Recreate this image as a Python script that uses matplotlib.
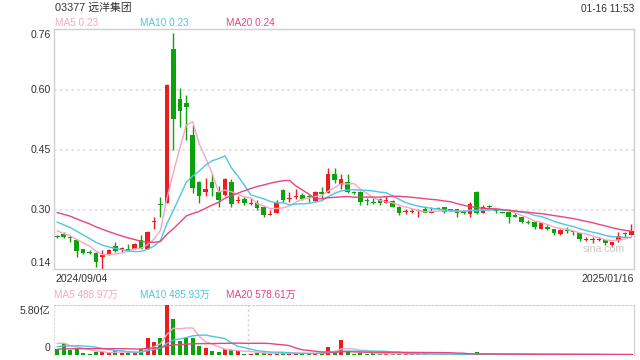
import matplotlib
matplotlib.use("Agg")
import matplotlib.pyplot as plt
import numpy as np

# ---------------- data ----------------
title = "03377 远洋集团"
timestamp = "01-16 11:53"
date_start = "2024/09/04"
date_end = "2025/01/16"

opens = [0.233, 0.239, 0.233, 0.224, 0.202, 0.192, 0.193, 0.181, 0.187, 0.209,
         0.202, 0.203, 0.203, 0.224, 0.203, 0.269, 0.313, 0.316, 0.702, 0.577,
         0.567, 0.487, 0.370, 0.345, 0.370, 0.345, 0.338, 0.370, 0.321, 0.327,
         0.314, 0.318, 0.306, 0.288, 0.293, 0.349, 0.327, 0.331, 0.337, 0.332,
         0.323, 0.345, 0.343, 0.389, 0.362, 0.369, 0.344, 0.345, 0.323, 0.318,
         0.326, 0.318, 0.322, 0.308, 0.294, 0.294, 0.298, 0.301, 0.293, 0.303,
         0.306, 0.300, 0.301, 0.294, 0.289, 0.345, 0.293, 0.307, 0.301, 0.294,
         0.295, 0.287, 0.283, 0.269, 0.270, 0.253, 0.258, 0.252, 0.239, 0.248,
         0.246, 0.241, 0.225, 0.225, 0.225, 0.224, 0.212, 0.224, 0.240, 0.237]
highs = [0.236, 0.245, 0.234, 0.226, 0.203, 0.199, 0.194, 0.199, 0.201, 0.220,
         0.208, 0.214, 0.216, 0.237, 0.247, 0.283, 0.331, 0.615, 0.743, 0.605,
         0.587, 0.512, 0.372, 0.380, 0.388, 0.360, 0.380, 0.378, 0.335, 0.333,
         0.328, 0.324, 0.307, 0.299, 0.324, 0.351, 0.345, 0.353, 0.341, 0.337,
         0.347, 0.356, 0.403, 0.403, 0.389, 0.389, 0.347, 0.346, 0.328, 0.328,
         0.328, 0.334, 0.324, 0.310, 0.303, 0.303, 0.301, 0.309, 0.308, 0.306,
         0.307, 0.303, 0.301, 0.297, 0.320, 0.348, 0.312, 0.312, 0.301, 0.295,
         0.295, 0.291, 0.283, 0.274, 0.270, 0.268, 0.264, 0.252, 0.253, 0.256,
         0.246, 0.241, 0.231, 0.231, 0.231, 0.224, 0.220, 0.245, 0.245, 0.264]
lows = [0.230, 0.229, 0.220, 0.181, 0.190, 0.190, 0.158, 0.151, 0.186, 0.195,
        0.195, 0.199, 0.202, 0.202, 0.202, 0.253, 0.283, 0.316, 0.449, 0.508,
        0.474, 0.341, 0.316, 0.333, 0.335, 0.308, 0.334, 0.308, 0.316, 0.312,
        0.312, 0.299, 0.283, 0.286, 0.292, 0.320, 0.320, 0.326, 0.324, 0.320,
        0.321, 0.326, 0.341, 0.368, 0.352, 0.341, 0.340, 0.312, 0.312, 0.314,
        0.312, 0.316, 0.306, 0.287, 0.289, 0.291, 0.283, 0.291, 0.292, 0.301,
        0.293, 0.298, 0.283, 0.290, 0.283, 0.289, 0.291, 0.300, 0.293, 0.291,
        0.268, 0.281, 0.268, 0.264, 0.253, 0.252, 0.249, 0.237, 0.237, 0.241,
        0.237, 0.223, 0.223, 0.218, 0.223, 0.212, 0.208, 0.220, 0.231, 0.237]
closes = [0.232, 0.233, 0.230, 0.198, 0.193, 0.191, 0.170, 0.187, 0.199, 0.198,
          0.203, 0.199, 0.214, 0.203, 0.245, 0.271, 0.311, 0.612, 0.527, 0.547,
          0.558, 0.355, 0.335, 0.353, 0.355, 0.324, 0.378, 0.314, 0.323, 0.318,
          0.316, 0.304, 0.287, 0.290, 0.318, 0.324, 0.329, 0.333, 0.328, 0.331,
          0.345, 0.339, 0.389, 0.374, 0.376, 0.345, 0.342, 0.320, 0.322, 0.317,
          0.316, 0.324, 0.308, 0.291, 0.295, 0.295, 0.299, 0.293, 0.295, 0.302,
          0.295, 0.299, 0.293, 0.293, 0.314, 0.291, 0.308, 0.306, 0.298, 0.293,
          0.283, 0.283, 0.270, 0.268, 0.256, 0.266, 0.253, 0.241, 0.249, 0.247,
          0.245, 0.228, 0.226, 0.226, 0.226, 0.216, 0.220, 0.234, 0.239, 0.248]
# volume in 亿 shares
volumes = [0.70, 1.35, 0.58, 0.85, 0.27, 0.12, 0.39, 0.39, 0.19, 0.50,
           0.27, 0.19, 0.27, 0.66, 2.01, 1.55, 2.01, 5.80, 4.18, 1.66,
           2.01, 2.01, 1.08, 0.85, 0.46, 0.35, 0.66, 0.58, 0.50, 0.15,
           0.15, 0.27, 0.19, 0.12, 0.27, 0.27, 0.12, 0.19, 0.15, 0.15,
           0.27, 0.27, 0.97, 0.27, 1.74, 0.39, 0.12, 0.19, 0.15, 0.19,
           0.10, 0.12, 0.10, 0.31, 0.08, 0.08, 0.10, 0.08, 0.06, 0.05,
           0.10, 0.05, 0.08, 0.05, 0.12, 0.35, 0.08, 0.05, 0.08, 0.05,
           0.10, 0.06, 0.08, 0.05, 0.09, 0.07, 0.06, 0.08, 0.05, 0.04,
           0.05, 0.06, 0.04, 0.05, 0.04, 0.06, 0.03, 0.05, 0.04, 0.065]
# closes / volumes before the visible window (estimated from MA line starts)
prior_closes = [0.320, 0.325, 0.330, 0.320, 0.315, 0.320, 0.310, 0.315, 0.310, 0.305,
                0.300, 0.295, 0.290, 0.285, 0.280, 0.270, 0.255, 0.245, 0.235]
prior_volumes = [0.30, 0.40, 0.35, 0.30, 0.40, 0.35, 0.30, 0.40, 0.35, 0.35,
                 0.50, 0.70, 0.60, 0.50, 0.70, 1.20, 2.00, 1.50, 1.30]

ma_periods = [5, 10, 20]
price_ma_labels = ["MA5 0.23", "MA10 0.23", "MA20 0.24"]
vol_ma_labels = ["MA5 488.97万", "MA10 485.93万", "MA20 578.61万"]
price_tick_vals = [0.30, 0.45, 0.60]
price_tick_text = ["0.30", "0.45", "0.60"]
price_top_label, price_bottom_label = "0.76", "0.14"
vol_top_label, vol_bottom_label = "5.80亿", "0"
vol_max = 5.80
month_line_pos = 29.6

# ---------------- style ----------------
RED = "#ee1c1c"
GREEN = "#0ca20c"
MA_COLORS = ["#f8a5c2", "#4cc6e4", "#e8457b"]
TXT = "#333333"
FAM = ["Liberation Sans", "Noto Sans CJK SC", "DejaVu Sans"]
plt.rcParams["font.family"] = FAM

W, H = 640, 360
fig = plt.figure(figsize=(6.4, 3.6), dpi=100)

def fx(x):
    return x / W

def fy(y):
    return 1 - y / H

def ma(series, prior, n):
    full = np.array(prior + series, dtype=float)
    out = np.convolve(full, np.ones(n) / n, mode="valid")
    return out[-len(series):]

n = len(closes)
idx = np.arange(n)
o = np.array(opens); c = np.array(closes); h = np.array(highs); l = np.array(lows)
up = c >= o
colors = np.where(up, RED, GREEN)

# ---------------- price panel ----------------
L, R, T, B = 54, 634, 29.3, 269.3
ax = fig.add_axes([fx(L), fy(B), fx(R - L), (B - T) / H])
ax.set_xlim(-0.51, 89.42)
ax.set_ylim(0.151, 0.751)
for yv in price_tick_vals:
    ax.axhline(yv, color="#dddddd", lw=1.2, ls=(0, (1.5, 2)), zorder=0)
ax.vlines(idx, l, h, colors=colors, lw=1, zorder=2)
body_bottom = np.minimum(o, c)
body_h = np.maximum(np.abs(c - o), 0.0025)
ax.bar(idx, body_h, bottom=body_bottom, width=0.7, color=colors, zorder=3, linewidth=0)
for p, col in zip(ma_periods, MA_COLORS):
    ax.plot(idx, ma(closes, prior_closes, p), color=col, lw=1, zorder=4)
ax.set_xticks([]); ax.set_yticks([])
for s in ax.spines.values():
    s.set_color("#d0d0d0"); s.set_linewidth(1)
ax.text(0.985, 0.085, "sina.com", transform=ax.transAxes, ha="right", va="center",
        fontsize=7.6, color="#c9c9c9", zorder=5)

# price axis labels
for yv, t in zip(price_tick_vals, price_tick_text):
    ypx = 89.7 + (0.60 - yv) * 400
    fig.text(fx(51), fy(ypx), t, ha="right", va="center", fontsize=7.6, color=TXT)
fig.text(fx(51), fy(35), price_top_label, ha="right", va="center", fontsize=7.6, color=TXT)
fig.text(fx(51), fy(263), price_bottom_label, ha="right", va="center", fontsize=7.6, color=TXT)

fig.text(fx(55), fy(278.5), date_start, ha="left", va="center", fontsize=7.6, color=TXT)
fig.text(fx(634.5), fy(278.5), date_end, ha="right", va="center", fontsize=7.6, color=TXT)

# header
fig.text(fx(55), fy(8), title, ha="left", va="center", fontsize=7.8, color=TXT)
fig.text(fx(634.5), fy(8.5), timestamp, ha="right", va="center", fontsize=7.3, color=TXT)
for x0, t, col in zip([55, 140.5, 225.5], price_ma_labels, MA_COLORS):
    fig.text(fx(x0), fy(23), t, ha="left", va="center", fontsize=7.2, color=col)

# ---------------- volume panel ----------------
VT, VB = 305, 355
axv = fig.add_axes([fx(L), fy(VB), fx(R - L), (VB - VT) / H])
axv.set_xlim(-0.51, 89.42)
axv.set_ylim(0, vol_max)
axv.bar(idx, volumes, width=0.62, color=colors, linewidth=0, zorder=3)
for p, col in zip(ma_periods, MA_COLORS):
    axv.plot(idx, ma(volumes, prior_volumes, p), color=col, lw=1, zorder=4)
axv.axvline(month_line_pos, color="#d0d0d0", lw=1, ls=(0, (1.5, 2)), zorder=0)
axv.set_xticks([]); axv.set_yticks([])
axv.spines["top"].set_linestyle((0, (1.5, 2)))
axv.spines["top"].set_color("#cccccc")
axv.spines["left"].set_linestyle((0, (1.5, 2)))
axv.spines["left"].set_color("#dddddd")
axv.spines["right"].set_color("#d0d0d0")
axv.spines["bottom"].set_visible(False)
for x0, t, col in zip([54.5, 140, 225.5], vol_ma_labels, MA_COLORS):
    fig.text(fx(x0), fy(295), t, ha="left", va="center", fontsize=7.2, color=col)
fig.text(fx(50.5), fy(311), vol_top_label, ha="right", va="center", fontsize=7.6, color=TXT)
fig.text(fx(50.5), fy(348), vol_bottom_label, ha="right", va="center", fontsize=7.6, color=TXT)

fig.savefig("out.png", dpi=100)
